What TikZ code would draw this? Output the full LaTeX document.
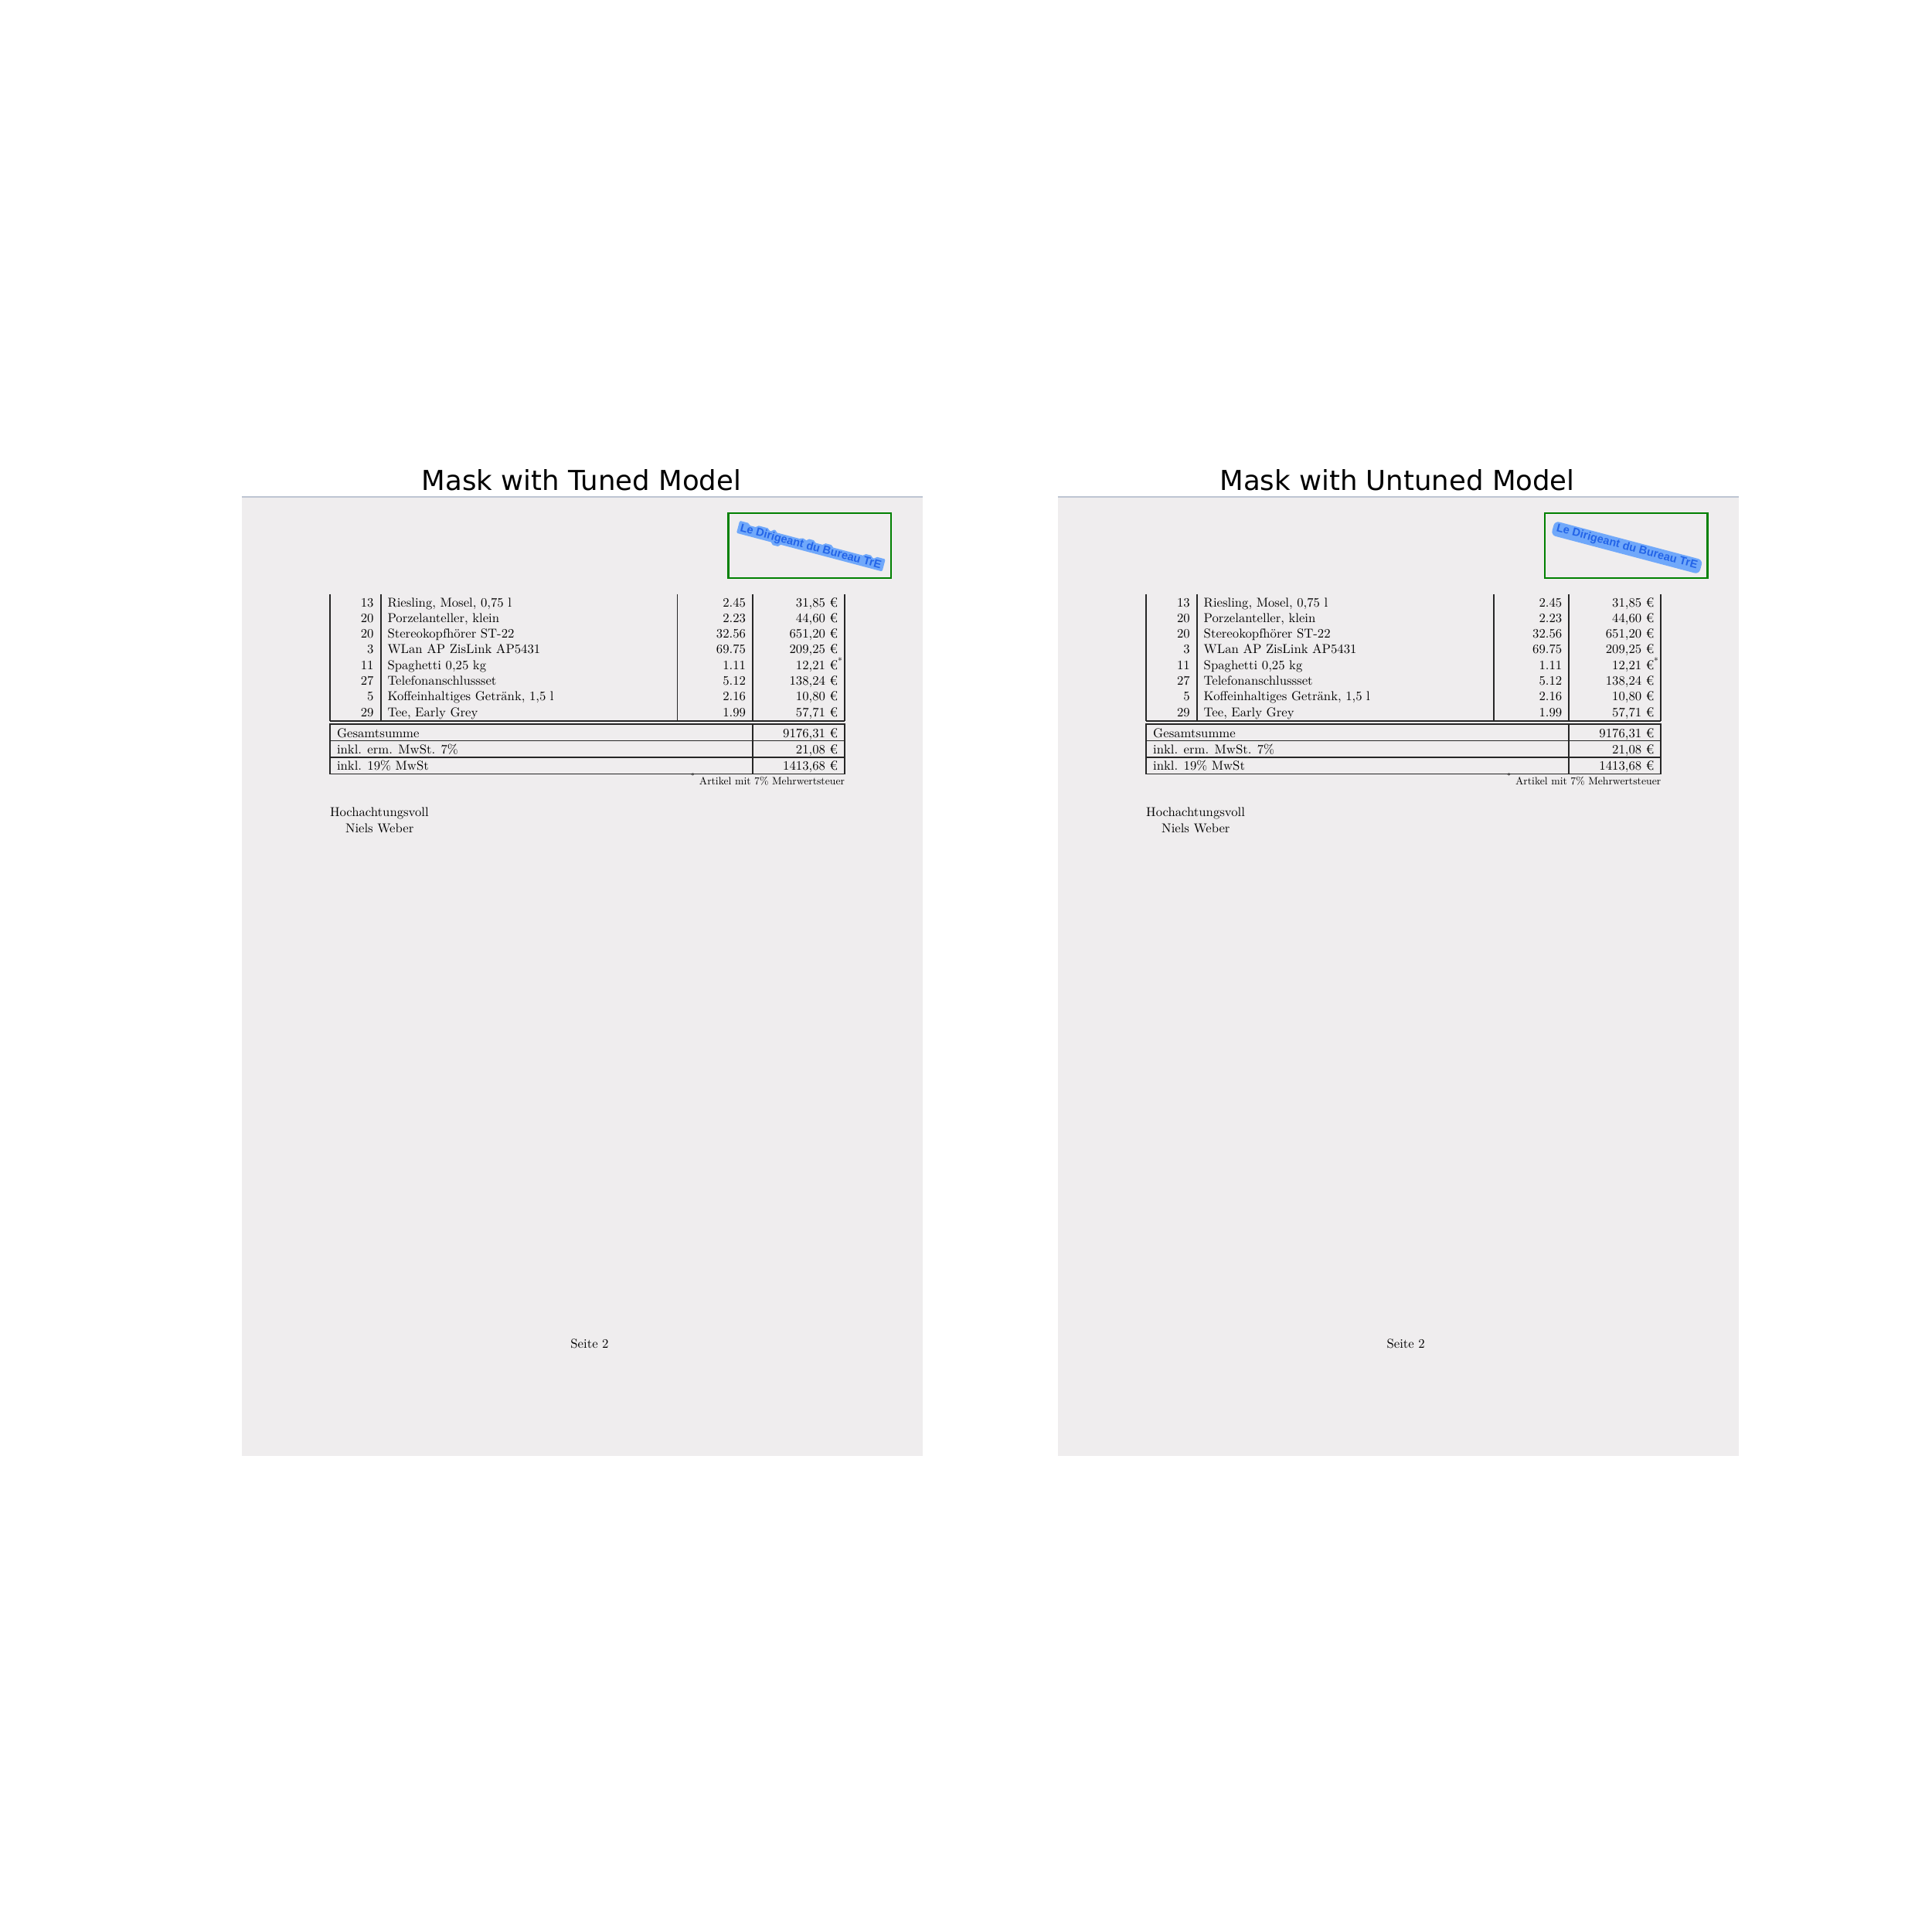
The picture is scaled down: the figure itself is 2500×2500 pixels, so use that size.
\documentclass[tikz,border=0pt]{standalone}
\usepackage{fontspec}
\setmainfont{lmroman10-regular.otf}
\newfontfamily\titlefont{DejaVu Sans}
\newfontfamily\stampfont{Liberation Sans}
\newcommand\docfont{\fontsize{4.75}{5.7}\selectfont}
\newcommand\notefont{\fontsize{3.9}{4.7}\selectfont}
\newcommand\stamptext{Le Dirigeant du Bureau TrE}
\definecolor{paper}{RGB}{239,237,238}
\definecolor{paperedge}{RGB}{190,197,210}
\definecolor{boxgreen}{RGB}{0,128,0}
\definecolor{stampblue}{RGB}{35,100,232}
\definecolor{maskblue}{RGB}{112,168,250}
\tikzset{
  doc/.style={inner sep=0pt, outer sep=0pt, font=\docfont},
  rule/.style={line width=0.5pt, draw=black!85},
  stamp/.style={inner sep=0pt, text=stampblue, font=\stampfont\bfseries\fontsize{4.15}{4.3}\selectfont, rotate=-14.8},
  pagetitle/.style={inner sep=0pt, anchor=base, font=\titlefont\fontsize{10.1}{12}\selectfont},
  maskbox/.style={draw=boxgreen, line width=0.8pt},
  maskfill/.style={fill=maskblue, rounded corners=0.4pt},
}
\newcommand{\invoicepage}[1]{%
  \fill[paper] (312.5,642) rectangle (1193.5,1883.5);
  \draw[paperedge, line width=0.6pt] (312.5,642.8) -- (1193.5,642.8);
  \foreach \xx in {427,492.7,876.5,973.8,1093} {\draw[rule] (\xx,768.5) -- (\xx,933);}
  \draw[rule] (427,933) -- (1093,933);
  \draw[rule] (427,937.3) rectangle (1093,1001.5);
  \draw[rule] (427,958.6) -- (1093,958.6) (427,980) -- (1093,980) (973.8,937.3) -- (973.8,1001.5);
  \foreach \q/\d/\p/\t [count=\i] in {
      13/{Riesling, Mosel, 0,75 l}/2.45/{31,85 €},
      20/{Porzelanteller, klein}/2.23/{44,60 €},
      20/{Stereokopfhörer ST-22}/32.56/{651,20 €},
      3/{WLan AP ZisLink AP5431}/69.75/{209,25 €},
      11/{Spaghetti 0,25 kg}/1.11/{12,21 €\rlap{\textsuperscript{*}}},
      27/{Telefonanschlussset}/5.12/{138,24 €},
      5/{Koffeinhaltiges Getränk, 1,5 l}/2.16/{10,80 €},
      29/{Tee, Early Grey}/1.99/{57,71 €}}{
    \node[doc, anchor=base east] (#1-q\i) at (483.5,{785+20.3*(\i-1)}) {\q};
    \node[doc, anchor=base west] (#1-d\i) at (501.5,{785+20.3*(\i-1)}) {\d};
    \node[doc, anchor=base east] (#1-p\i) at (965,{785+20.3*(\i-1)}) {\p};
    \node[doc, anchor=base east] (#1-t\i) at (1084,{785+20.3*(\i-1)}) {\t};
  }
  \node[doc, anchor=base west] (#1-s1) at (436,954.3) {Gesamtsumme};
  \node[doc, anchor=base east] (#1-v1) at (1084,954.3) {9176,31 €};
  \node[doc, anchor=base west] (#1-s2) at (436,975.7) {inkl. erm. MwSt. 7\%};
  \node[doc, anchor=base east] (#1-v2) at (1084,975.7) {21,08 €};
  \node[doc, anchor=base west] (#1-s3) at (436,996.5) {inkl. 19\% MwSt};
  \node[doc, anchor=base east] (#1-v3) at (1084,996.5) {1413,68 €};
  \node[doc, font=\notefont, anchor=base east] (#1-note) at (1093,1015) {\textsuperscript{*} Artikel mit 7\% Mehrwertsteuer};
  \node[doc, anchor=base west] (#1-greet) at (427,1056.5) {Hochachtungsvoll};
  \node[doc, anchor=base west] (#1-name) at (447,1077) {Niels Weber};
  \node[doc, anchor=base] (#1-page) at (763,1744) {Seite 2};
  \draw[maskbox] (942.7,664) rectangle (1153,748);
}
\begin{document}
\begin{tikzpicture}[x=0.01cm, y=-0.01cm]
  \useasboundingbox[fill=white] (0,0) rectangle (2500,2500);
  \node[pagetitle] (title-tuned) at (752.5,634) {Mask with Tuned Model};
  \node[pagetitle] (title-untuned) at (1808,634) {Mask with Untuned Model};
  % left page: tight mask hugging the letters
  \invoicepage{L}
  \begin{scope}[shift={(1049,708)}, rotate=-14.8]
    \fill[maskfill] (-97.5,-9.6) -- (-85,-9.6) -- (-84,-6.9) -- (-74,-6.9) -- (-73.5,-9.6)
      -- (-58.5,-9.6) -- (-58,-6.9) -- (-53.5,-6.9) -- (-53,-9.6) -- (-48.5,-9.6)
      -- (-48,-6.9) -- (-15,-6.9) -- (-14.5,-8.5) -- (-10,-8.5) -- (-9.5,-6.9)
      -- (-6.5,-6.9) -- (-6,-9.6) -- (3,-9.6) -- (3.5,-6.9) -- (15.5,-6.9)
      -- (16,-9.6) -- (26.5,-9.6) -- (27,-6.9) -- (69.5,-6.9) -- (70,-9.6)
      -- (79.5,-9.6) -- (80,-6.9) -- (84.5,-6.9) -- (85,-9.6) -- (97.5,-9.6)
      -- (97.5,6.8) -- (-39.5,6.8) -- (-40,9.9) -- (-49.5,9.9) -- (-50,6.8)
      -- (-97.5,6.8) -- cycle;
  \end{scope}
  \node[stamp] (L-stamp) at (1049,708) {\stamptext};
  % right page: broad band mask
  \begin{scope}[xshift=10.556cm]
    \invoicepage{R}
    \node[rotate=-14.8, fill=maskblue, minimum width=1.98cm, minimum height=0.19cm, rounded corners=0.06cm, inner sep=0pt] (R-band) at (1049,708.5) {};
    \node[stamp] (R-stamp) at (1049,708) {\stamptext};
  \end{scope}
\end{tikzpicture}
\end{document}
